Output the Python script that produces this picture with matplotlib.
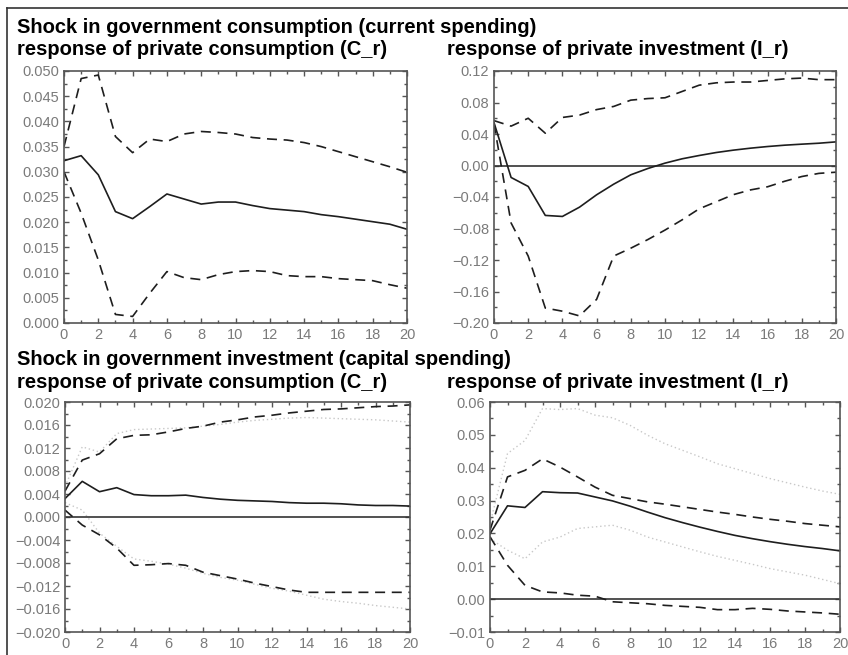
import numpy as np
import matplotlib
matplotlib.use("Agg")
import matplotlib.pyplot as plt
from matplotlib.ticker import MultipleLocator, FuncFormatter
from matplotlib.lines import Line2D

horizon = list(range(21))

# Panel 1: shock in gov consumption -> private consumption
c_cons_mid = [0.0322, 0.0332, 0.0294, 0.0221, 0.0207, 0.0231, 0.0256, 0.0246, 0.0236, 0.0240, 0.0240,
              0.0233, 0.0227, 0.0224, 0.0221, 0.0215, 0.0211, 0.0206, 0.0201, 0.0196, 0.0186]
c_cons_hi = [0.0350, 0.0485, 0.0492, 0.0370, 0.0338, 0.0365, 0.0360, 0.0375, 0.0380, 0.0378, 0.0375,
             0.0368, 0.0365, 0.0363, 0.0358, 0.0350, 0.0340, 0.0330, 0.0320, 0.0310, 0.0299]
c_cons_lo = [0.0300, 0.0218, 0.0125, 0.0017, 0.0013, 0.0059, 0.0102, 0.0090, 0.0086, 0.0096, 0.0102,
             0.0104, 0.0102, 0.0094, 0.0092, 0.0092, 0.0088, 0.0086, 0.0084, 0.0076, 0.0069]

# Panel 2: shock in gov consumption -> private investment
c_inv_mid = [0.0545, -0.0152, -0.0266, -0.0634, -0.0647, -0.0529, -0.0372, -0.0237, -0.0118, -0.0038, 0.0030,
             0.0085, 0.0127, 0.0165, 0.0195, 0.0220, 0.0241, 0.0258, 0.0271, 0.0283, 0.0300]
c_inv_hi = [0.057, 0.050, 0.060, 0.041, 0.061, 0.064, 0.071, 0.075, 0.083, 0.085, 0.086,
            0.094, 0.102, 0.105, 0.106, 0.106, 0.108, 0.110, 0.111, 0.109, 0.109]
c_inv_lo = [0.053, -0.073, -0.115, -0.181, -0.185, -0.191, -0.170, -0.115, -0.105, -0.094, -0.082,
            -0.069, -0.055, -0.046, -0.037, -0.031, -0.027, -0.020, -0.014, -0.010, -0.0085]

# Panel 3: shock in gov investment -> private consumption
i_cons_mid = [0.0032, 0.0062, 0.0044, 0.0051, 0.0039, 0.0037, 0.0037, 0.0038, 0.0034, 0.0031, 0.0029,
              0.0028, 0.0027, 0.0025, 0.0024, 0.0024, 0.0023, 0.0021, 0.0020, 0.0020, 0.0019]
i_cons_hi = [0.0045, 0.0099, 0.0110, 0.0136, 0.0142, 0.0143, 0.0148, 0.0154, 0.0158, 0.0165, 0.0169,
             0.0174, 0.0177, 0.0181, 0.0184, 0.0187, 0.0188, 0.0190, 0.0192, 0.0193, 0.0195]
i_cons_lo = [0.0012, -0.0014, -0.0031, -0.0054, -0.0084, -0.0083, -0.0081, -0.0084, -0.0096, -0.0102, -0.0108,
             -0.0115, -0.0121, -0.0127, -0.0131, -0.0131, -0.0131, -0.0131, -0.0131, -0.0131, -0.0131]
i_cons_hi2 = [0.0053, 0.0122, 0.0113, 0.0145, 0.0152, 0.0153, 0.0154, 0.0155, 0.0158, 0.0161, 0.0165,
              0.0168, 0.0170, 0.0172, 0.0173, 0.0172, 0.0171, 0.0170, 0.0169, 0.0167, 0.0165]
i_cons_lo2 = [0.0025, 0.0012, -0.0028, -0.0051, -0.0073, -0.0077, -0.0082, -0.0089, -0.0098, -0.0105, -0.0110,
              -0.0117, -0.0124, -0.0129, -0.0136, -0.0143, -0.0147, -0.0150, -0.0154, -0.0157, -0.0160]

# Panel 4: shock in gov investment -> private investment
i_inv_mid = [0.0199, 0.0284, 0.0279, 0.0327, 0.0324, 0.0323, 0.0311, 0.0299, 0.0283, 0.0265, 0.0248,
             0.0233, 0.0219, 0.0206, 0.0194, 0.0184, 0.0175, 0.0167, 0.0160, 0.0154, 0.0147]
i_inv_hi = [0.0210, 0.0372, 0.0392, 0.0427, 0.0402, 0.0372, 0.0341, 0.0316, 0.0306, 0.0296, 0.0289,
            0.0281, 0.0273, 0.0265, 0.0258, 0.0250, 0.0243, 0.0237, 0.0230, 0.0225, 0.0220]
i_inv_lo = [0.0190, 0.0103, 0.0042, 0.0022, 0.0019, 0.0012, 0.0009, -0.0008, -0.0011, -0.0014, -0.0019,
            -0.0022, -0.0025, -0.0032, -0.0032, -0.0028, -0.0031, -0.0036, -0.0039, -0.0042, -0.0046]
i_inv_hi2 = [0.0230, 0.0443, 0.0483, 0.0580, 0.0577, 0.0580, 0.0560, 0.0552, 0.0529, 0.0499, 0.0473,
             0.0453, 0.0433, 0.0412, 0.0397, 0.0382, 0.0367, 0.0354, 0.0341, 0.0329, 0.0319]
i_inv_lo2 = [0.0184, 0.0149, 0.0123, 0.0174, 0.0189, 0.0215, 0.0220, 0.0225, 0.0210, 0.0189, 0.0174,
             0.0159, 0.0144, 0.0130, 0.0118, 0.0106, 0.0093, 0.0083, 0.0073, 0.0060, 0.0047]

section_titles = ["Shock in government consumption (current spending)",
                  "Shock in government investment (capital spending)"]
panel_titles = ["response of private consumption (C_r)", "response of private investment (I_r)"]

W, H = 848, 655
fig = plt.figure(figsize=(W / 100, H / 100), dpi=100)

def ax_at(l, t, r, b):
    return fig.add_axes([l / W, 1 - b / H, (r - l) / W, (b - t) / H])

def make_fmt(dec):
    def f(v, pos):
        s = f"{abs(v):.{dec}f}"
        if v < 0 and float(s) != 0:
            return "\u2212" + s
        return s
    return FuncFormatter(f)

panels = [
    dict(box=(64, 71, 407, 323), ylim=(0, 0.05), major=0.005, minor=0.0025, dec=3, zero=False,
         mid=c_cons_mid, hi=c_cons_hi, lo=c_cons_lo, hi2=None, lo2=None),
    dict(box=(494, 71, 836, 323), ylim=(-0.2, 0.12), major=0.04, minor=0.02, dec=2, zero=True,
         mid=c_inv_mid, hi=c_inv_hi, lo=c_inv_lo, hi2=None, lo2=None),
    dict(box=(65, 402, 410, 632), ylim=(-0.02, 0.02), major=0.004, minor=0.002, dec=3, zero=True,
         mid=i_cons_mid, hi=i_cons_hi, lo=i_cons_lo, hi2=i_cons_hi2, lo2=i_cons_lo2),
    dict(box=(490, 402, 840, 632), ylim=(-0.01, 0.06), major=0.01, minor=0.005, dec=2, zero=True,
         mid=i_inv_mid, hi=i_inv_hi, lo=i_inv_lo, hi2=i_inv_hi2, lo2=i_inv_lo2),
]

tick_col = '#7a7a7a'
spine_col = '#555555'
line_col = '#1e1e1e'

for p in panels:
    ax = ax_at(*p['box'])
    if p['hi2'] is not None:
        ax.plot(horizon, p['hi2'], color='#c8c8c8', lw=1.0, ls=(0, (1, 2)))
        ax.plot(horizon, p['lo2'], color='#c8c8c8', lw=1.0, ls=(0, (1, 2)))
    if p['zero']:
        ax.axhline(0, color='#333333', lw=1.2)
    ax.plot(horizon, p['hi'], color=line_col, lw=1.2, ls=(0, (6, 4)))
    ax.plot(horizon, p['lo'], color=line_col, lw=1.2, ls=(0, (6, 4)))
    ax.plot(horizon, p['mid'], color=line_col, lw=1.2)
    ax.set_xlim(0, 20)
    ax.set_ylim(*p['ylim'])
    ax.xaxis.set_major_locator(MultipleLocator(2))
    ax.xaxis.set_minor_locator(MultipleLocator(1))
    ax.yaxis.set_major_locator(MultipleLocator(p['major']))
    ax.yaxis.set_minor_locator(MultipleLocator(p['minor']))
    ax.yaxis.set_major_formatter(make_fmt(p['dec']))
    ax.tick_params(which='both', direction='in', top=True, right=True, color=spine_col,
                   labelcolor=tick_col, labelsize=10.5, width=1)
    ax.tick_params(which='major', length=3.5, pad=3.5)
    ax.tick_params(which='minor', length=2.5)
    for s in ax.spines.values():
        s.set_color(spine_col)
        s.set_linewidth(1.2)
    for lab in ax.get_yticklabels() + ax.get_xticklabels():
        lab.set_fontfamily('Liberation Sans')

title_kw = dict(fontfamily='Liberation Sans', fontweight='bold', fontsize=14.5, color='black', va='baseline')
fig.text(17 / W, 1 - 33 / H, section_titles[0], **title_kw)
fig.text(17 / W, 1 - 55 / H, panel_titles[0], **title_kw)
fig.text(447 / W, 1 - 55 / H, panel_titles[1], **title_kw)
fig.text(17 / W, 1 - 365 / H, section_titles[1], **title_kw)
fig.text(17 / W, 1 - 388 / H, panel_titles[0], **title_kw)
fig.text(447 / W, 1 - 388 / H, panel_titles[1], **title_kw)

# figure frame (left and top edges)
fig.add_artist(Line2D([7 / W, 7 / W], [0, 1 - 8 / H], color='#333333', lw=1.2, transform=fig.transFigure))
fig.add_artist(Line2D([7 / W, 1], [1 - 8 / H, 1 - 8 / H], color='#333333', lw=1.2, transform=fig.transFigure))

fig.savefig('out.png', dpi=100, facecolor='white')
